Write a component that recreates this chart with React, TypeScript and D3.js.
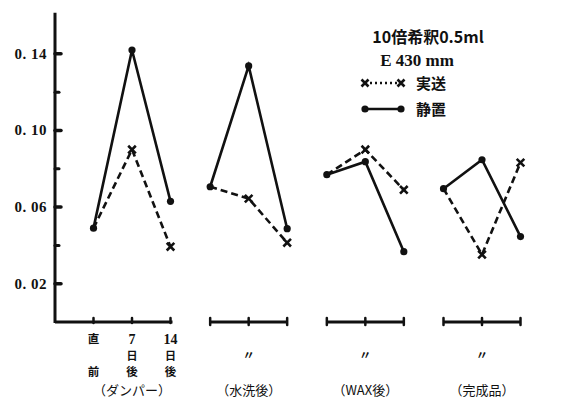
import React, { useRef, useEffect } from "react";
import * as d3 from "d3";

// groups (x-axis sections) and the three sampling times in each
const groups = ["ダンパー", "水洗後", "WAX後", "完成品"];
const times = ["直前", "7日後", "14日後"];
// stacked tick labels under the first group
const timeLabels = [["直", "", "前"], ["7", "日", "後"], ["14", "日", "後"]];

// 静置 (solid line, dots)
const seichi = [
  [0.049, 0.142, 0.063],
  [0.0706, 0.1337, 0.0487],
  [0.0769, 0.0837, 0.0367],
  [0.0696, 0.0847, 0.0446],
];
// 実送 (dashed line, crosses) - starts from the same first point
const jisso = [
  [0.049, 0.09, 0.0393],
  [0.0706, 0.0644, 0.0414],
  [0.0769, 0.09, 0.069],
  [0.0696, 0.0352, 0.0832],
];

const majorTicks = [0.02, 0.06, 0.1, 0.14];
const minorTicks = [0.04, 0.08, 0.12];

const App = () => {
  const ref = useRef<SVGSVGElement>(null);

  useEffect(() => {
    document.body.style.margin = "0";
    const width = 563;
    const height = 398;
    const ink = "#111";
    const serif = "'Liberation Serif', 'DejaVu Serif', 'Noto Sans CJK JP', serif";
    const cjk = "'Noto Sans CJK JP', 'Liberation Serif', serif";

    const svg = d3.select(ref.current).attr("width", width).attr("height", height);
    svg.selectAll("*").remove();

    const y = d3.scaleLinear().domain([0, 0.16]).range([322, 15.5]);
    const gx = d3.scalePoint().domain(groups).range([132, 482]);
    const tx = d3.scalePoint().domain(times).range([-38.5, 38.5]);
    const xAt = (g: number, t: number) => (gx(groups[g]) as number) + (tx(times[t]) as number);

    // y axis
    svg.append("line")
      .attr("x1", 55).attr("x2", 55)
      .attr("y1", y(0.1615)).attr("y2", y(0) + 1)
      .attr("stroke", ink).attr("stroke-width", 3);

    svg.selectAll(".ymaj").data(majorTicks).enter()
      .append("line")
      .attr("x1", 55).attr("x2", 61)
      .attr("y1", d => y(d)).attr("y2", d => y(d))
      .attr("stroke", ink).attr("stroke-width", 3.5).attr("stroke-linecap", "round");

    svg.selectAll(".ymin").data(minorTicks).enter()
      .append("line")
      .attr("x1", 55).attr("x2", 59)
      .attr("y1", d => y(d)).attr("y2", d => y(d))
      .attr("stroke", ink).attr("stroke-width", 3).attr("stroke-linecap", "round");

    svg.selectAll(".ylab").data(majorTicks).enter()
      .append("text")
      .attr("x", 47).attr("y", d => y(d) + 5)
      .attr("text-anchor", "end")
      .style("font-family", serif).style("font-size", "15px").style("font-weight", "bold")
      .style("letter-spacing", "0.5px")
      .attr("fill", ink)
      .text(d => d3.format(".2f")(d).replace(".", ". "));

    // baselines for each group
    groups.forEach((g, gi) => {
      const x0 = gi === 0 ? 55 : xAt(gi, 0);
      const x1 = xAt(gi, 2);
      svg.append("line")
        .attr("x1", x0).attr("x2", x1 + (gi === 0 ? 2 : 0))
        .attr("y1", y(0)).attr("y2", y(0))
        .attr("stroke", ink).attr("stroke-width", 3);
      times.forEach((t, ti) => {
        svg.append("line")
          .attr("x1", xAt(gi, ti)).attr("x2", xAt(gi, ti))
          .attr("y1", y(0) - 4).attr("y2", y(0) + (gi === 0 ? 1 : 3))
          .attr("stroke", ink).attr("stroke-width", 2.5).attr("stroke-linecap", "round");
      });
    });

    groups.forEach((g, gi) => {
      const pts = (vals: number[]) => vals.map((v, i) => [xAt(gi, i), y(v)] as [number, number]);
      svg.append("path")
        .attr("d", d3.line()(pts(jisso[gi])))
        .attr("fill", "none").attr("stroke", ink).attr("stroke-width", 2.6)
        .attr("stroke-dasharray", "7,4");
      svg.append("path")
        .attr("d", d3.line()(pts(seichi[gi])))
        .attr("fill", "none").attr("stroke", ink).attr("stroke-width", 2.6);

      // dots
      seichi[gi].forEach((v, i) => {
        svg.append("circle")
          .attr("cx", xAt(gi, i)).attr("cy", y(v)).attr("r", 3.6).attr("fill", ink);
      });
      // crosses (skip first, shared with dot)
      jisso[gi].forEach((v, i) => {
        if (i === 0) return;
        const cx = xAt(gi, i), cy = y(v), s = 3.8;
        svg.append("path")
          .attr("d", `M${cx - s},${cy - s}L${cx + s},${cy + s}M${cx - s},${cy + s}L${cx + s},${cy - s}`)
          .attr("stroke", ink).attr("stroke-width", 2.6);
      });
    });

    // stacked tick labels for first group (one text element per column)
    const rowY = [343, 359.5, 376];
    timeLabels.forEach((parts, ti) => {
      const t = svg.append("text")
        .attr("x", xAt(0, ti)).attr("y", rowY[0])
        .attr("text-anchor", "middle")
        .style("font-family", cjk).style("font-size", "11.5px").style("font-weight", "bold")
        .attr("fill", ink);
      parts.forEach((p, pi) => {
        if (p === "") return;
        const num = pi === 0 && ti > 0;
        t.append("tspan")
          .attr("x", xAt(0, ti)).attr("y", rowY[pi] + (num ? 1 : 0))
          .style("font-family", num ? serif : cjk)
          .style("font-size", num ? "14px" : pi === 1 ? "11px" : "11.5px")
          .text(p);
      });
    });

    groups.forEach((g, gi) => {
      const cx = gx(g) as number;
      if (gi > 0) {
        svg.append("text")
          .attr("x", cx).attr("y", 360).attr("text-anchor", "middle")
          .style("font-family", cjk).style("font-size", "12px").style("font-weight", "bold")
          .attr("fill", ink).text("〃");
      }
      svg.append("text")
        .attr("x", cx).attr("y", 395)
        .attr("text-anchor", "middle")
        .style("font-family", cjk).style("font-size", "13px")
        .attr("fill", ink)
        .text(`（${g}）`);
    });

    // legend / annotation
    svg.append("text")
      .attr("x", 428).attr("y", 43).attr("text-anchor", "middle")
      .style("font-family", cjk).style("font-size", "16px").style("font-weight", "bold")
      .attr("fill", ink).text("10倍希釈0.5ml");
    svg.append("text")
      .attr("x", 417).attr("y", 66).attr("text-anchor", "middle")
      .style("font-family", serif).style("font-size", "17px").style("font-weight", "bold")
      .attr("fill", ink).text("E 430  mm");

    const lx0 = 365, lx1 = 401;
    // 実送
    svg.append("line")
      .attr("x1", lx0).attr("x2", lx1).attr("y1", 83).attr("y2", 83)
      .attr("stroke", ink).attr("stroke-width", 2.6).attr("stroke-dasharray", "2,3");
    [lx0, lx1].forEach(cx => {
      const s = 3.5;
      svg.append("path")
        .attr("d", `M${cx - s},${83 - s}L${cx + s},${83 + s}M${cx - s},${83 + s}L${cx + s},${83 - s}`)
        .attr("stroke", ink).attr("stroke-width", 2.6);
    });
    // 静置
    svg.append("line")
      .attr("x1", lx0).attr("x2", lx1).attr("y1", 109).attr("y2", 109)
      .attr("stroke", ink).attr("stroke-width", 2.6);
    [lx0, lx1].forEach(cx => {
      svg.append("circle").attr("cx", cx).attr("cy", 109).attr("r", 3.6).attr("fill", ink);
    });
    svg.append("text")
      .attr("x", 416).attr("y", 89)
      .style("font-family", cjk).style("font-size", "15px").style("font-weight", "bold")
      .attr("fill", ink).text("実送");
    svg.append("text")
      .attr("x", 416).attr("y", 115)
      .style("font-family", cjk).style("font-size", "15px").style("font-weight", "bold")
      .attr("fill", ink).text("静置");
  }, []);

  return (
    <div>
      <svg ref={ref}></svg>
    </div>
  );
};

export default App;
